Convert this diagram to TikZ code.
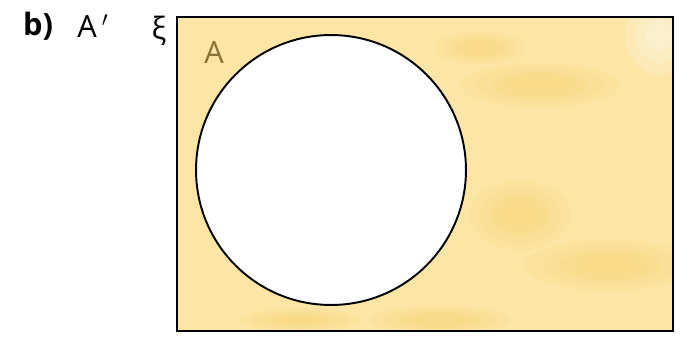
\documentclass[tikz,border=0pt]{standalone}
\usepackage{fontspec}
\setmainfont{Open Sans}
\usetikzlibrary{positioning}

\definecolor{wash}{RGB}{252,229,165}
\definecolor{washdark}{RGB}{249,208,100}
\definecolor{labelbrown}{RGB}{135,115,55}

% soft watercolour blot: centre x, centre y, radius x, radius y
\newcommand{\softblot}[4]{%
  \foreach \s in {1,0.8,0.6,0.4}
    \fill[washdark, opacity=0.12] (#1,#2) ellipse ({#3*\s} and {#4*\s});}

\begin{document}
\begin{tikzpicture}[x=0.02cm, y=-0.02cm, font=\fontsize{17.5}{20}\selectfont,
    setcircle/.style={draw, circle, fill=white, inner sep=0pt, line width=1.1pt, minimum size=5.4cm}]
  \useasboundingbox (0,0) rectangle (684,338);

  % universal set, washed in yellow
  \coordinate (nw) at (177,17);
  \coordinate (se) at (673,331);
  \fill[wash] (nw) rectangle (se);
  \begin{scope}
    \clip (nw) rectangle (se);
    \softblot{540}{85}{80}{22}
    \softblot{480}{48}{45}{16}
    \softblot{610}{265}{85}{26}
    \softblot{520}{215}{50}{35}
    \softblot{440}{320}{70}{14}
    \softblot{300}{320}{60}{12}
    \foreach \s in {1,0.7,0.4}
      \fill[white, opacity=0.18] (660,35) ellipse ({35*\s} and {40*\s});
  \end{scope}
  \draw[line width=1.4pt] (nw) rectangle (se);

  % set A
  \node[setcircle] (setA) at (331,170) {};

  % labels
  \node[font=\fontsize{17.5}{20}\selectfont\bfseries] (part) at (38,26) {b)};
  \node (compl) at (93,26) {A\,$'$};
  \node (xi) at (159,31) {ξ};
  \node[text=labelbrown] (lblA) at (214,52) {A};
\end{tikzpicture}
\end{document}
